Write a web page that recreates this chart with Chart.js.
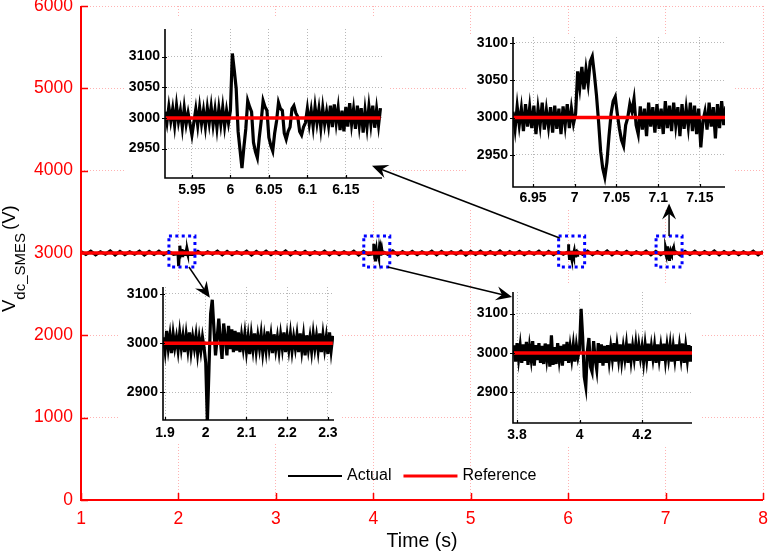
<!DOCTYPE html>
<html><head><meta charset="utf-8">
<script src="https://cdn.jsdelivr.net/npm/chart.js@4.4.1/dist/chart.umd.min.js"></script>
<style>
html,body{margin:0;padding:0;background:#fff;}
#wrap{position:relative;width:768px;height:553px;overflow:hidden;background:#fff;}
canvas{position:absolute;display:block;}
.inset{background:#fff;}
#overlay{pointer-events:none;}
</style></head><body>
<div id="wrap">
<canvas id="main" width="768" height="553" style="left:0;top:0;z-index:0"></canvas>
<canvas id="in1" class="inset" width="265" height="183" style="left:125px;top:17px;z-index:1"></canvas>
<canvas id="in2" class="inset" width="265" height="174" style="left:468px;top:35px;z-index:1"></canvas>
<canvas id="in3" class="inset" width="222" height="162" style="left:120px;top:280px;z-index:1"></canvas>
<canvas id="in4" class="inset" width="228" height="160" style="left:472px;top:285px;z-index:1"></canvas>
<canvas id="overlay" width="768" height="553" style="left:0;top:0;z-index:3"></canvas>
</div>
<script>
// ---------------- DATA ----------------
const seriesNames = ['Actual', 'Reference'];
const referenceVoltage = 3000;
const mainTickX = [1, 2, 3, 4, 5, 6, 7, 8];
const mainTickY = [0, 1000, 2000, 3000, 4000, 5000, 6000];
const zoomTimes = [2, 4, 6, 7];

// Main trace, sampled every 0.05 s from 1 s to 8 s
const mainStart = 1, mainStep = 0.05;
const mainActual = [
 3018, 2982, 3022, 2978, 3015, 2985, 3025, 2976, 3020, 2980,
 3016, 2984, 3024, 2975, 3019, 2981, 3022, 2979, 3017, 2983,
 3025, 2977, 3018, 2982, 3021, 2978, 3015, 2985, 3023, 2976,
 3020, 2980, 3016, 2984, 3024, 2975, 3019, 2981, 3022, 2979,
 3017, 2983, 3025, 2977, 3018, 2982, 3021, 2978, 3015, 2985,
 3023, 2976, 3020, 2980, 3016, 2984, 3024, 2975, 3019, 2981,
 3022, 2979, 3017, 2983, 3025, 2977, 3018, 2982, 3021, 2978,
 3015, 2985, 3023, 2976, 3020, 2980, 3016, 2984, 3024, 2975,
 3019, 2981, 3022, 2979, 3017, 2983, 3025, 2977, 3018, 2982,
 3021, 2978, 3015, 2985, 3023, 2976, 3020, 2980, 3016, 2984,
 3024, 2975, 3019, 2981, 3022, 2979, 3017, 2983, 3025, 2977,
 3018, 2982, 3021, 2978, 3015, 2985, 3023, 2976, 3020, 2980,
 3016, 2984, 3024, 2975, 3019, 2981, 3022, 2979, 3017, 2983,
 3025, 2977, 3018, 2982, 3021, 2978, 3015, 2985, 3023, 2976,
 3020
];

// Inset 1 (around t = 6 s), sampled every 0.0025 s
const inset1Start = 5.915, inset1Step = 0.0025;
const inset1Actual = [
 3010, 2992, 3018, 2995, 3015, 2988, 3020, 2994, 3012, 2985, 3016, 2990, 3008, 2990, 2972, 2993, 3014, 2988, 3017, 2991,
 3012, 2986, 3016, 2992, 3018, 2989, 3013, 2984, 3015, 2990, 3017, 2987, 3012, 2992,
 3012, 3105, 3078, 3048, 2978, 2948, 2918, 2952, 2982, 3028, 3018, 3010, 2960, 2945, 2935, 2968,
 2995, 3028, 3018, 3012, 2968, 2955, 2946, 2975, 2995, 3025, 3015, 3012, 2975, 2965, 2978, 2985,
 3015, 3020, 3008, 3002, 2978, 2972, 2985, 2992,
 3015, 2990, 3012, 2986, 3018, 2992, 3014, 2984, 3016, 2990, 3010, 2988, 3020, 2985, 3022, 2992,
 3016, 2980, 3012, 2978, 3018, 2986, 3024, 2990, 3014, 2982, 3020, 2988, 3016, 2976, 3012, 2985,
 3018, 2990, 3020, 2984, 3014, 2988, 3016
];
const inset1TickX = [5.95, 6, 6.05, 6.1, 6.15];
const inset1TickY = [2950, 3000, 3050, 3100];

// Inset 2 (around t = 7 s), sampled every 0.0025 s
const inset2Start = 6.926, inset2Step = 0.0025;
const inset2Actual = [
 3008, 2985, 3015, 2990, 3012, 2982, 3018, 2988, 3014, 2986, 3016, 2978, 3012, 2990, 3020,
 2984, 3010, 2988, 3014, 2980, 3016, 2985, 3012, 2978, 3015, 2990, 3018, 2986, 3012, 2992,
 3005, 3062, 3040, 3068, 3038, 3065, 3045, 3075, 3082, 3058, 3030, 2995, 2955, 2932, 2920,
 2940, 2975, 3005, 3022, 3028, 3005, 2985, 2970, 2962, 2990, 3000, 3018, 3008, 3025, 2990,
 2978, 3015, 2984, 3012, 2975, 3020, 2988, 3014, 2980, 3018, 2985, 3012, 2978, 3022, 2986,
 3016, 2982, 3020, 2990, 3014, 2975, 3018, 2985, 3012, 2988, 3020, 2982, 3016, 2978, 3012,
 2960, 2995, 3008, 2984, 3020, 2988, 3014, 2972, 3018, 2986, 3022, 2990, 3015
];
const inset2TickX = [6.95, 7, 7.05, 7.1, 7.15];
const inset2TickY = [2950, 3000, 3050, 3100];

// Inset 3 (around t = 2 s), sampled every 0.004 s
const inset3Start = 1.896, inset3Step = 0.004;
const inset3Actual = [
 3012, 2985, 3025, 2990, 3015, 2980, 3018, 2992, 3012, 2986, 3020, 2990, 3014, 2982, 3016, 2988,
 3022, 2984, 3012, 2990, 3015, 2980, 3010, 2985, 3012, 2990,
 2960, 2840, 2950, 3060, 3088, 3030, 2975, 3010, 3050, 3005, 2968, 3040, 3010, 2975, 3035, 2988,
 3028, 2982, 3025, 2985,
 3022, 2982, 3015, 2990, 3018, 2984, 3012, 2978, 3016, 2988,
 3020, 2985, 3014, 2990, 3018, 2982, 3012, 2986, 3024, 2990,
 3015, 2980, 3018, 2988, 3012, 2984, 3016, 2990, 3022, 2982,
 3014, 2988, 3018, 2985, 3012, 2990, 3016, 2982, 3020, 2986,
 3014, 2975, 3016, 2988, 3012, 2984, 3018, 2990, 3014, 2986,
 3020, 2982, 3016, 2988, 3012, 2978, 3022, 2986, 3015
];
const inset3TickX = [1.9, 2, 2.1, 2.2, 2.3];
const inset3TickY = [2900, 3000, 3100];

// Inset 4 (around t = 4 s), sampled every 0.005 s
const inset4Start = 3.79, inset4Step = 0.005;
const inset4Actual = [
 3020, 2978, 3025, 2985, 3018, 2975, 3022, 2980, 3028, 2970,
 3015, 2985, 3030, 2968, 3020, 2982, 3025, 2975, 3018, 2972,
 3024, 2986, 3022, 2965, 3045, 2970, 3015, 2972, 3025, 2984,
 3018, 2968, 3022, 2980, 3028, 2975, 3015, 2985, 3020, 2978,
 3018, 2990,
 3010, 3112, 3040, 2940, 2915, 3005, 3038, 2965, 2952, 3030, 2985, 2958, 3025, 2975, 3022, 2968,
 3018, 2975,
 3020, 2980, 3015, 2985, 3025, 2978, 3018, 2984, 3022, 2980,
 3015, 2986, 3020, 2975, 3024, 2982, 3016, 2986, 3022, 2980,
 3018, 2988, 3015, 2978, 3020, 2984, 3024, 2980, 3016, 2986,
 3018, 2975, 3022, 2985, 3016, 2980, 3024, 2982, 3018, 2986,
 3020, 2978, 3016, 2984, 3022, 2980, 3018, 2986, 3024, 2975,
 3016, 2982, 3020, 2978, 3018
];
const inset4TickX = [3.8, 4, 4.2];
const inset4TickY = [2900, 3000, 3100];

// ---------------- BUILD ----------------
const FONT = "'Liberation Sans', Arial, Helvetica, sans-serif";
function series(start, step, values) {
  return values.map((v, i) => ({x: +(start + i * step).toFixed(5), y: v}));
}
const in1 = series(inset1Start, inset1Step, inset1Actual);
const in2 = series(inset2Start, inset2Step, inset2Actual);
const in3 = series(inset3Start, inset3Step, inset3Actual);
const in4 = series(inset4Start, inset4Step, inset4Actual);
const insetSeries = [in1, in2, in3, in4];
// transient windows: the finely sampled inset data replaces the coarse trace there
const transientWins = zoomTimes.map(t => [t - 0.005, t + 0.1]);
const inWin = x => transientWins.some(w => x >= w[0] && x <= w[1]);
let mainPts = series(mainStart, mainStep, mainActual).filter(p => !inWin(p.x));
insetSeries.forEach(s => s.forEach(p => { if (inWin(p.x)) mainPts.push(p); }));
mainPts.sort((a, b) => a.x - b.x);

function boxRect(chart, t) {
  const cx = chart.scales.x.getPixelForValue(t) + 3.5;
  const cy = chart.scales.y.getPixelForValue(referenceVoltage) - 1.5;
  return {x0: cx - 13, y0: cy - 15.5, x1: cx + 13, y1: cy + 15.5, cx: cx, cy: cy};
}

const mainDecor = {
  id: 'mainDecor',
  afterDatasetsDraw(chart) {
    const ctx = chart.ctx;
    ctx.save();
    ctx.strokeStyle = '#0000ff';
    ctx.lineWidth = 3;
    ctx.setLineDash([3, 3.4]);
    zoomTimes.forEach(t => {
      const b = boxRect(chart, t);
      ctx.strokeRect(b.x0, b.y0, b.x1 - b.x0, b.y1 - b.y0);
    });
    ctx.restore();
  },
  afterDraw(chart) {
    const ctx = chart.ctx, a = chart.chartArea;
    const xs = chart.scales.x, ys = chart.scales.y;
    ctx.save();
    ctx.strokeStyle = '#ff0000';
    ctx.lineWidth = 2;
    ctx.beginPath();
    ctx.moveTo(a.left, a.top); ctx.lineTo(a.left, a.bottom); ctx.lineTo(a.right, a.bottom);
    ctx.stroke();
    ctx.lineWidth = 1.5;
    ctx.beginPath();
    mainTickX.forEach(v => { const x = Math.round(xs.getPixelForValue(v)) + 0.5; ctx.moveTo(x, a.bottom); ctx.lineTo(x, a.bottom - 7); });
    mainTickY.forEach(v => { const y = Math.round(ys.getPixelForValue(v)) + 0.5; ctx.moveTo(a.left, y); ctx.lineTo(a.left + 7, y); });
    ctx.stroke();

    // legend
    const ds = chart.data.datasets;
    ctx.font = '16px ' + FONT;
    ctx.textBaseline = 'middle';
    ctx.textAlign = 'left';
    let x = 288; const ly = 476;
    seriesNames.forEach((name, i) => {
      ctx.strokeStyle = ds[i].borderColor;
      ctx.lineWidth = i === 0 ? 2 : 3;
      ctx.beginPath(); ctx.moveTo(x, ly); ctx.lineTo(x + 54, ly); ctx.stroke();
      ctx.fillStyle = '#000';
      ctx.fillText(name, x + 59, ly);
      x += 59 + ctx.measureText(name).width + 12;
    });

    // x title
    ctx.font = '19.5px ' + FONT;
    ctx.textAlign = 'center';
    ctx.fillText('Time (s)', (a.left + a.right) / 2, 542);

    // y title
    ctx.save();
    ctx.translate(15, 312);
    ctx.rotate(-Math.PI / 2);
    ctx.textAlign = 'left';
    ctx.textBaseline = 'alphabetic';
    ctx.font = '18.5px ' + FONT;
    ctx.fillText('V', 0, 0);
    let w = ctx.measureText('V').width;
    ctx.font = '15px ' + FONT;
    ctx.fillText('dc_SMES', w, 10);
    w += ctx.measureText('dc_SMES').width + 3;
    ctx.font = '18.5px ' + FONT;
    ctx.fillText('(V)', w, 0);
    ctx.restore();
    ctx.restore();
  }
};

const mainChart = new Chart(document.getElementById('main'), {
  type: 'line',
  data: {datasets: [
    {label: seriesNames[0], data: mainPts, borderColor: '#000000', borderWidth: 3, pointRadius: 0, tension: 0, order: 2},
    {label: seriesNames[1], data: [{x: mainTickX[0], y: referenceVoltage}, {x: mainTickX[mainTickX.length - 1], y: referenceVoltage}],
     borderColor: '#ff0000', borderWidth: 3.5, pointRadius: 0, order: 1}
  ]},
  options: {
    responsive: false, animation: false, devicePixelRatio: 1, events: [],
    layout: {padding: {left: 0, top: 6, right: 5, bottom: 0}},
    plugins: {legend: {display: false}, tooltip: {enabled: false}},
    scales: {
      x: {type: 'linear', min: mainTickX[0], max: mainTickX[mainTickX.length - 1],
        afterBuildTicks: s => { s.ticks = mainTickX.map(v => ({value: v})); },
        afterFit: s => { s.height = 53; s.paddingLeft = 0; s.paddingRight = 0; },
        grid: {color: '#ffb3b3', lineWidth: 1, drawTicks: false},
        border: {display: false, dash: [1, 2]},
        ticks: {color: '#ff0000', font: {family: FONT, size: 17.5}, padding: 9, autoSkip: false, maxRotation: 0, callback: v => String(v)}},
      y: {type: 'linear', min: mainTickY[0], max: mainTickY[mainTickY.length - 1],
        afterBuildTicks: s => { s.ticks = mainTickY.map(v => ({value: v})); },
        afterFit: s => { s.width = 81; s.paddingTop = 0; s.paddingBottom = 0; },
        grid: {color: '#ffb3b3', lineWidth: 1, drawTicks: false},
        border: {display: false, dash: [1, 2]},
        ticks: {color: '#ff0000', font: {family: FONT, size: 17.5}, padding: 8, autoSkip: false, callback: v => String(v)}}
    }
  },
  plugins: [mainDecor]
});

const insetAxes = {
  id: 'insetAxes',
  afterDraw(chart) {
    const ctx = chart.ctx, a = chart.chartArea;
    ctx.save();
    ctx.strokeStyle = '#000';
    ctx.lineWidth = 1.6;
    ctx.beginPath();
    ctx.moveTo(a.left, a.top); ctx.lineTo(a.left, a.bottom); ctx.lineTo(a.right, a.bottom);
    ctx.stroke();
    ctx.lineWidth = 1.2;
    ctx.beginPath();
    chart.scales.y.ticks.forEach(t => { const y = Math.round(chart.scales.y.getPixelForValue(t.value)) + 0.5; ctx.moveTo(a.left - 3, y); ctx.lineTo(a.left + 2, y); });
    chart.scales.x.ticks.forEach(t => { const x = Math.round(chart.scales.x.getPixelForValue(t.value)) + 0.5; ctx.moveTo(x, a.bottom); ctx.lineTo(x, a.bottom - 3); });
    ctx.stroke();
    ctx.restore();
  }
};

function makeInset(id, cfg) {
  const d = cfg.data;
  return new Chart(document.getElementById(id), {
    type: 'line',
    data: {datasets: [
      {label: seriesNames[0], data: d, borderColor: '#000000', borderWidth: 3.2, pointRadius: 0, tension: 0, order: 2},
      {label: seriesNames[1], data: [{x: d[0].x, y: referenceVoltage}, {x: d[d.length - 1].x, y: referenceVoltage}],
       borderColor: '#ff0000', borderWidth: 3.5, pointRadius: 0, order: 1}
    ]},
    options: {
      responsive: false, animation: false, devicePixelRatio: 1, events: [],
      layout: {padding: {left: 0, top: cfg.padTop, right: cfg.padRight, bottom: 0}},
      plugins: {legend: {display: false}, tooltip: {enabled: false}},
      scales: {
        x: {type: 'linear', min: cfg.xMin, max: cfg.xMax,
          afterBuildTicks: s => { s.ticks = cfg.tickX.map(v => ({value: v})); },
          afterFit: s => { s.height = cfg.xh; s.paddingLeft = 0; s.paddingRight = 0; },
          grid: {color: '#b8b8b8', lineWidth: 1, drawTicks: false},
          border: {display: false, dash: [1, 2]},
          ticks: {color: '#000', font: {family: FONT, size: 14, weight: 'bold'}, padding: cfg.xPad, autoSkip: false, maxRotation: 0, callback: v => String(v)}},
        y: {type: 'linear', min: cfg.yMin, max: cfg.yMax,
          afterBuildTicks: s => { s.ticks = cfg.tickY.map(v => ({value: v})); },
          afterFit: s => { s.width = cfg.yw; s.paddingTop = 0; s.paddingBottom = 0; },
          grid: {color: '#b8b8b8', lineWidth: 1, drawTicks: false},
          border: {display: false, dash: [1, 2]},
          ticks: {color: '#000', font: {family: FONT, size: 14, weight: 'bold'}, padding: 5, autoSkip: false, callback: v => String(v)}}
      }
    },
    plugins: [insetAxes]
  });
}

const inset1 = makeInset('in1', {data: in1, xMin: 5.915, xMax: 6.197, yMin: 2902, yMax: 3145, tickX: inset1TickX, tickY: inset1TickY, yw: 40, padTop: 12, padRight: 8, xh: 22, xPad: 4});
const inset2 = makeInset('in2', {data: in2, xMin: 6.926, xMax: 7.18, yMin: 2907, yMax: 3108, tickX: inset2TickX, tickY: inset2TickY, yw: 45, padTop: 2, padRight: 8, xh: 22, xPad: 3});
const inset3 = makeInset('in3', {data: in3, xMin: 1.895, xMax: 2.315, yMin: 2844, yMax: 3114, tickX: inset3TickX, tickY: inset3TickY, yw: 43, padTop: 7, padRight: 8, xh: 22, xPad: 5});
const inset4 = makeInset('in4', {data: in4, xMin: 3.787, xMax: 4.36, yMin: 2822, yMax: 3155, tickX: inset4TickX, tickY: inset4TickY, yw: 41, padTop: 7, padRight: 8, xh: 22, xPad: 4});

// ---------------- ARROWS (overlay) ----------------
function insetPx(chart, canvasId, t, v) {
  const c = document.getElementById(canvasId);
  return [parseFloat(c.style.left) + chart.scales.x.getPixelForValue(t), parseFloat(c.style.top) + chart.scales.y.getPixelForValue(v)];
}
function drawArrow(ctx, x1, y1, x2, y2) {
  const L = 16, W = 7;
  const ang = Math.atan2(y2 - y1, x2 - x1);
  ctx.save();
  ctx.strokeStyle = '#000'; ctx.fillStyle = '#000'; ctx.lineWidth = 1.5;
  ctx.beginPath(); ctx.moveTo(x1, y1);
  ctx.lineTo(x2 - Math.cos(ang) * L * 0.6, y2 - Math.sin(ang) * L * 0.6);
  ctx.stroke();
  ctx.translate(x2, y2); ctx.rotate(ang);
  ctx.beginPath(); ctx.moveTo(0, 0); ctx.lineTo(-L, -W); ctx.lineTo(-L * 0.65, 0); ctx.lineTo(-L, W); ctx.closePath(); ctx.fill();
  ctx.restore();
}
(function () {
  const ctx = document.getElementById('overlay').getContext('2d');
  const b = zoomTimes.map(t => boxRect(mainChart, t));
  const t1 = insetPx(inset3, 'in3', 2.01, 3092);
  const t2 = insetPx(inset4, 'in4', 3.784, 3142);
  const t3 = insetPx(inset1, 'in1', 6.184, 2922);
  const t4 = insetPx(inset2, 'in2', 7.113, 2885);
  drawArrow(ctx, b[0].x1 - 6, b[0].y1, t1[0], t1[1]);
  drawArrow(ctx, b[1].x1 - 2, b[1].y1, t2[0], t2[1]);
  drawArrow(ctx, b[2].x0 + 1, b[2].y0 + 2, t3[0], t3[1]);
  drawArrow(ctx, b[3].cx, b[3].y0, t4[0], t4[1]);
})();
</script>
</body></html>
